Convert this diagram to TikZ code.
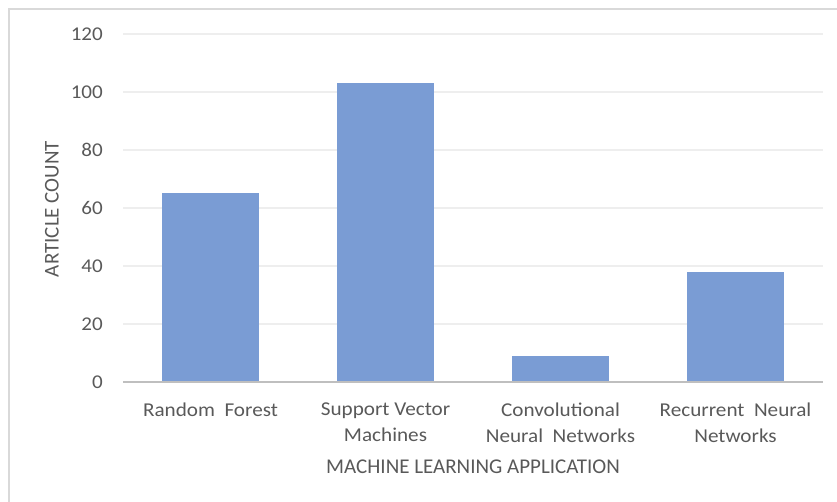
\documentclass[tikz,border=0pt]{standalone}
\usepackage{fontspec}
\setmainfont{Carlito}
\newfontfamily\lblfont[FakeStretch=1.08]{Carlito}
\usetikzlibrary{positioning}
\definecolor{barblue}{RGB}{122,156,212}
\definecolor{gridgray}{RGB}{238,238,238}
\definecolor{axisgray}{RGB}{191,191,191}
\definecolor{framegray}{RGB}{217,217,217}
\definecolor{labelgray}{RGB}{89,89,89}
\tikzset{
  bar/.style       = {fill=barblue, draw=none, minimum width=97pt, inner sep=0pt, anchor=south},
  gridline/.style  = {draw=gridgray, line width=1.5pt},
  baseline/.style  = {draw=axisgray, line width=2pt},
  ticklabel/.style = {font=\lblfont\fontsize{19.5}{23}\selectfont, text=labelgray, anchor=east, inner sep=0pt},
  catlabel/.style  = {font=\lblfont\fontsize{19.6}{26}\selectfont, text=labelgray, align=center, inner sep=0pt},
  axtitle/.style   = {font=\fontsize{21}{25}\selectfont, text=labelgray, inner sep=0pt},
}

\begin{document}
\begin{tikzpicture}[x=1pt, y=1pt]
  \useasboundingbox (0,0) rectangle (837,501);
  % chart area border
  \draw[framegray, line width=2pt] (9,-10) |- (850,492);

  % value axis: 2.9pt per article, zero at y=119
  \foreach \v in {20,40,...,120}
    \draw[gridline] (123,119+2.9*\v) -- (823,119+2.9*\v);
  \foreach \v in {0,20,...,120}
    \node[ticklabel] (tick\v) at (103,119+2.9*\v) {\v};

  % bars
  \foreach \val [count=\i] in {65,103,9,38} {
    \pgfmathsetmacro\h{2.9*\val}
    \node[bar, minimum height=\h pt] (bar\i) at (35.5+175*\i,119) {};
  }
  \draw[baseline] (123,119) -- (823,119);

  % category labels
  \foreach \txt [count=\i] in {Random~~Forest, {Support Vector\\Machines},
      {Convolutional\\Neural~~Networks}, {Recurrent~~Neural\\Networks}}
    \node[catlabel, below=21pt of bar\i.south, anchor=north] (cat\i) {\txt};

  \node[axtitle] (xtitle) at (473,34) {MACHINE LEARNING APPLICATION};
  \node[axtitle, rotate=90] (ytitle) at (52,292) {ARTICLE COUNT};
\end{tikzpicture}
\end{document}
